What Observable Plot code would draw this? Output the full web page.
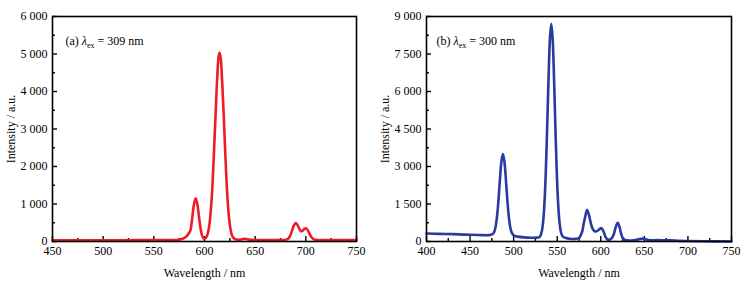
<!DOCTYPE html>
<html><head><meta charset="utf-8">
<script src="https://cdn.jsdelivr.net/npm/d3@7"></script>
<script src="https://cdn.jsdelivr.net/npm/@observablehq/plot@0.6"></script>
<style>
body{margin:0;background:#fff;}
#wrap{display:flex;width:747px;height:284px;}
</style></head><body><div id="wrap"></div>
<script>
// Panel (a): excitation 309 nm
const wavelengthA = [450,480,520,560,572,576,579,582,584,586,588,589.5,591.3,593,594.5,596,597.5,599,600.5,602,603.5,605,606.5,608,609.5,611,612.5,614,614.9,616,617.5,619,620.5,622,623.5,625,626.5,628,630,633,637,640,644,650,665,678,682,684,686,688,690,692,694,695.5,697,698.5,700,701.5,703,704.5,706,708,711,730,750];
const intensityA = [35,35,35,38,42,55,80,130,200,290,650,970,1150,985,665,365,170,90,80,122,242,485,915,1580,2470,3430,4340,4940,5030,4890,4230,3340,2350,1480,845,445,220,112,62,45,60,75,50,40,40,40,64,126,256,415,493,431,316,274,292,336,355,321,245,162,100,56,42,40,40];
const xTicksA = [450,500,550,600,650,700,750];
const xMinorA = [475,525,575,625,675,725];
const yTicksA = [0,1000,2000,3000,4000,5000,6000];
const yMinorA = [500,1500,2500,3500,4500,5500];
const legendA = ["(a) ", "λ", "ex", " = 309 nm"];

// Panel (b): excitation 300 nm
const wavelengthB = [400,415,430,445,460,472,476,478,480,482,484,486,487.7,489.5,491.5,493.5,495.5,497.5,500,505,512,520,527,530,532,534,536,538,540,541.7,543.2,544.7,546.4,548.4,550.4,552.4,554.4,556.5,560,566,571,574,575.7,577.5,578.9,580.3,582.2,584.2,586.3,588.8,591,593,594.6,596.8,598.7,600.3,602,603.8,605.6,608.3,611,613,615,617,619.4,621.5,623,625,627,630,635,640,644,648.5,653,658,665,672,680,690,700,720,750];
const intensityB = [320,305,295,275,260,255,300,410,740,1390,2340,3210,3500,3170,2280,1340,700,380,245,195,165,150,155,185,359,848,1987,3982,6463,8156,8710,8156,6463,3982,1987,848,359,194,140,100,105,125,165,300,428,696,1000,1256,1080,696,480,410,400,440,500,535,480,340,170,70,90,150,300,560,750,580,360,150,75,50,40,60,95,115,75,45,55,45,50,25,18,8,0];
const xTicksB = [400,450,500,550,600,650,700,750];
const xMinorB = [425,475,525,575,625,675,725];
const yTicksB = [0,1500,3000,4500,6000,7500,9000];
const yMinorB = [750,2250,3750,5250,6750,8250];
const legendB = ["(b) ", "λ", "ex", " = 300 nm"];

const xLabel = "Wavelength / nm";
const yLabel = "Intensity / a.u.";
const FONT = "Liberation Serif";

const fmt = d => d >= 1000 ? d3.format(",")(d).replace(",", " ") : String(d);

function panel(o) {
  const data = o.xs.map((x, i) => ({x, y: o.ys[i]}));
  const svg = Plot.plot({
    width: o.width, height: 284,
    marginTop: 16, marginBottom: 43, marginLeft: o.marginLeft, marginRight: o.marginRight,
    style: `font-family: ${FONT}; font-size: 12px; background: white; color: black;`,
    x: {domain: o.xDomain},
    y: {domain: o.yDomain},
    marks: [
      Plot.axisX({ticks: o.xMajor, tickSize: 0, tickPadding: 5, tickFormat: d => String(d), fontFamily: FONT, fontSize: 12, label: xLabel, labelAnchor: "center", labelArrow: "none", labelOffset: 35}),
      Plot.axisX({ticks: o.xMajor, tickSize: 5, dy: -5, text: null, label: null, strokeWidth: 1.4}),
      Plot.axisX({ticks: o.xMinor, tickSize: 3, dy: -3, text: null, label: null, strokeWidth: 1.4}),
      Plot.axisY({ticks: o.yMajor, tickSize: 0, tickPadding: 5, tickFormat: fmt, fontFamily: FONT, fontSize: 12, label: yLabel, labelAnchor: "center", labelArrow: "none", labelOffset: 46}),
      Plot.axisY({ticks: o.yMajor, tickSize: 5, dx: 5, text: null, label: null, strokeWidth: 1.4}),
      Plot.axisY({ticks: o.yMinor, tickSize: 3, dx: 3, text: null, label: null, strokeWidth: 1.4}),
      Plot.line(data, {x: "x", y: "y", stroke: o.color, strokeWidth: 2.6, curve: "catmull-rom"}),
      Plot.frame({stroke: "black", strokeWidth: 1.6}),
      Plot.text([o.legend.join("")], {frameAnchor: "top-left", dx: o.legendDx, dy: 20, textAnchor: "start", fontSize: 12, fontFamily: FONT})
    ]
  });
  d3.select(svg).selectAll("text").style("font-family", FONT);
  const t = d3.select(svg).select('g[aria-label="text"] text');
  t.text(null);
  t.append("tspan").text(o.legend[0]);
  t.append("tspan").attr("font-style", "italic").text(o.legend[1]);
  t.append("tspan").attr("font-size", 8).attr("dy", 3).text(o.legend[2]);
  t.append("tspan").attr("dy", -3).text(o.legend[3]);
  return svg;
}

const wrap = document.getElementById("wrap");
wrap.appendChild(panel({
  width: 374, marginLeft: 52, marginRight: 18,
  xDomain: [450, 750], yDomain: [0, 6000],
  xMajor: xTicksA, xMinor: xMinorA, yMajor: yTicksA, yMinor: yMinorA,
  xs: wavelengthA, ys: intensityA, color: "#ee1c24", legend: legendA, legendDx: 13
}));
wrap.appendChild(panel({
  width: 373, marginLeft: 52, marginRight: 16,
  xDomain: [400, 750], yDomain: [0, 9000],
  xMajor: xTicksB, xMinor: xMinorB, yMajor: yTicksB, yMinor: yMinorB,
  xs: wavelengthB, ys: intensityB, color: "#2a3a9e", legend: legendB, legendDx: 10
}));
</script>
</body></html>
